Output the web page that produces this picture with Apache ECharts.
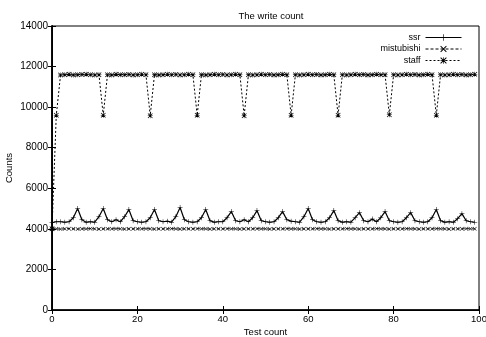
<!DOCTYPE html>
<html><head><meta charset="utf-8">
<script src="https://cdn.jsdelivr.net/npm/echarts@6/dist/echarts.min.js"></script>
<style>html,body{margin:0;padding:0;background:#fff}#c{width:486px;height:337px}</style>
</head><body><div id="c"></div>
<script>
var testCount = [0,1,2,3,4,5,6,7,8,9,10,11,12,13,14,15,16,17,18,19,20,21,22,23,24,25,26,27,28,29,30,31,32,33,34,35,36,37,38,39,40,41,42,43,44,45,46,47,48,49,50,51,52,53,54,55,56,57,58,59,60,61,62,63,64,65,66,67,68,69,70,71,72,73,74,75,76,77,78,79,80,81,82,83,84,85,86,87,88,89,90,91,92,93,94,95,96,97,98,99];
var ssr = [4300,4350,4350,4330,4350,4550,5000,4450,4330,4350,
4330,4600,5000,4450,4350,4450,4350,4600,4950,4400,
4350,4330,4350,4550,4950,4400,4350,4380,4330,4600,
5050,4450,4350,4330,4350,4550,4950,4400,4330,4350,
4350,4550,4850,4400,4350,4450,4350,4550,4900,4400,
4350,4330,4350,4550,4850,4450,4380,4350,4330,4600,
5000,4450,4350,4330,4350,4550,4900,4400,4330,4350,
4330,4550,4800,4400,4350,4480,4350,4550,4850,4400,
4350,4330,4350,4550,4800,4400,4350,4330,4350,4550,
4950,4400,4330,4350,4330,4500,4750,4400,4350,4330];
var mistubishi = [4000,4000,3990,4000,4010,4000,3990,4000,4000,4010,
4000,3990,4000,4000,4000,4010,4000,3990,4000,4000,
4000,4000,4010,4000,3990,4000,4000,4000,4010,4000,
3990,4000,4000,4000,4010,4000,4000,3990,4000,4000,
4000,4010,4000,4000,3990,4000,4000,4000,4010,4000,
4000,3990,4000,4000,4000,4010,4000,4000,3990,4000,
4000,4000,4010,4000,4000,3990,4000,4000,4000,4010,
4000,4000,3990,4000,4000,4000,4010,4000,4000,3990,
4000,4000,4000,4010,4000,4000,3990,4000,4000,4000,
4010,4000,4000,3990,4000,4000,4000,4010,4000,4000];
var staff = [4000,9600,11580,11600,11620,11580,11600,11610,11620,11600,
11580,11600,9600,11600,11580,11620,11600,11600,11610,11580,
11600,11620,11600,9580,11600,11580,11600,11620,11600,11610,
11580,11600,11620,11600,9600,11600,11580,11600,11620,11600,
11610,11580,11600,11620,11600,9580,11600,11580,11600,11620,
11600,11610,11580,11600,11620,11600,9600,11600,11580,11600,
11620,11600,11610,11580,11600,11620,11600,9600,11600,11580,
11600,11620,11600,11610,11580,11600,11620,11600,11600,9620,
11600,11580,11600,11620,11600,11610,11580,11600,11620,11600,
9600,11600,11580,11600,11620,11600,11610,11580,11600,11620];
var xTicks = [0,20,40,60,80,100];
var yTicks = [0,2000,4000,6000,8000,10000,12000,14000];

var plus = 'path://M4.5,0h1v4.5h4.5v1h-4.5v4.5h-1v-4.5h-4.5v-1h4.5z';
var cross = 'path://M0,1L1,0L5,4L9,0L10,1L6,5L10,9L9,10L5,6L1,10L0,9L4,5Z';
var star = 'path://M4.5,0h1v4.5h4.5v1h-4.5v4.5h-1v-4.5h-4.5v-1h4.5zM0,1L1,0L5,4L9,0L10,1L6,5L10,9L9,10L5,6L1,10L0,9L4,5Z';

function pts(ys){ return testCount.map(function(x,i){ return [x, ys[i]]; }); }
var font = 'Liberation Sans, Arial, sans-serif';
var chart = echarts.init(document.getElementById('c'), null, {renderer:'canvas'});
chart.setOption({
  animation:false,
  backgroundColor:'#fff',
  title:{text:'The write count', left:266, textAlign:'center', top:6,
    textStyle:{fontFamily:font, fontSize:9.5, fontWeight:'normal', color:'#000'}},
  legend:{orient:'vertical', right:19, top:28, align:'right', itemWidth:36, itemHeight:8, itemGap:2.5,
    lineStyle:{width:1},
    textStyle:{fontFamily:font, fontSize:9, color:'#000', padding:[0,0,0,0]},
    data:['ssr','mistubishi','staff']},
  grid:{left:52, right:7, top:26, bottom:27, show:true, borderColor:'#000', borderWidth:1, containLabel:false, outerBoundsMode:'none'},
  xAxis:[{type:'value', min:0, max:100, interval:20, name:'Test count', nameLocation:'middle', nameGap:17, nameMoveOverlap:false,
    nameTextStyle:{fontFamily:font, fontSize:9.5, color:'#000'},
    axisLine:{show:true, lineStyle:{color:'#000', width:1.5}},
    axisTick:{show:true, inside:true, length:4, lineStyle:{color:'#000'}},
    axisLabel:{fontFamily:font, fontSize:9.5, color:'#000', margin:4, formatter:function(v){return String(v);}},
    splitLine:{show:false}},
   {type:'value', position:'top', min:0, max:100, interval:20,
    axisLine:{show:true, lineStyle:{color:'#000', width:1}},
    axisTick:{show:true, inside:true, length:4, lineStyle:{color:'#000'}},
    axisLabel:{show:false}, splitLine:{show:false}}],
  yAxis:[{type:'value', min:0, max:14000, interval:2000, name:'Counts', nameLocation:'middle', nameGap:38, nameRotate:90, nameMoveOverlap:false,
    nameTextStyle:{fontFamily:font, fontSize:9.5, color:'#000'},
    axisLine:{show:true, lineStyle:{color:'#000', width:1.8}},
    axisTick:{show:true, inside:true, length:4, lineStyle:{color:'#000'}},
    axisLabel:{fontFamily:font, fontSize:10, color:'#000', margin:4, formatter:function(v){return String(v);}},
    splitLine:{show:false}},
   {type:'value', position:'right', min:0, max:14000, interval:2000,
    axisLine:{show:true, lineStyle:{color:'#000', width:1}},
    axisTick:{show:true, inside:true, length:4, lineStyle:{color:'#000'}},
    axisLabel:{show:false}, splitLine:{show:false}}],
  series:[
    {name:'ssr', type:'line', data:pts(ssr), symbol:plus, symbolSize:5, showAllSymbol:true,
      lineStyle:{color:'#000', width:1.2}, itemStyle:{color:'#000'}},
    {name:'mistubishi', type:'line', data:pts(mistubishi), symbol:cross, symbolSize:4, showAllSymbol:true,
      lineStyle:{color:'#000', width:1, type:[3,2]}, itemStyle:{color:'#000'}},
    {name:'staff', type:'line', data:pts(staff), symbol:star, symbolSize:5, showAllSymbol:true,
      lineStyle:{color:'#000', width:1, type:[2,2]}, itemStyle:{color:'#000'}}
  ]
});
</script></body></html>
